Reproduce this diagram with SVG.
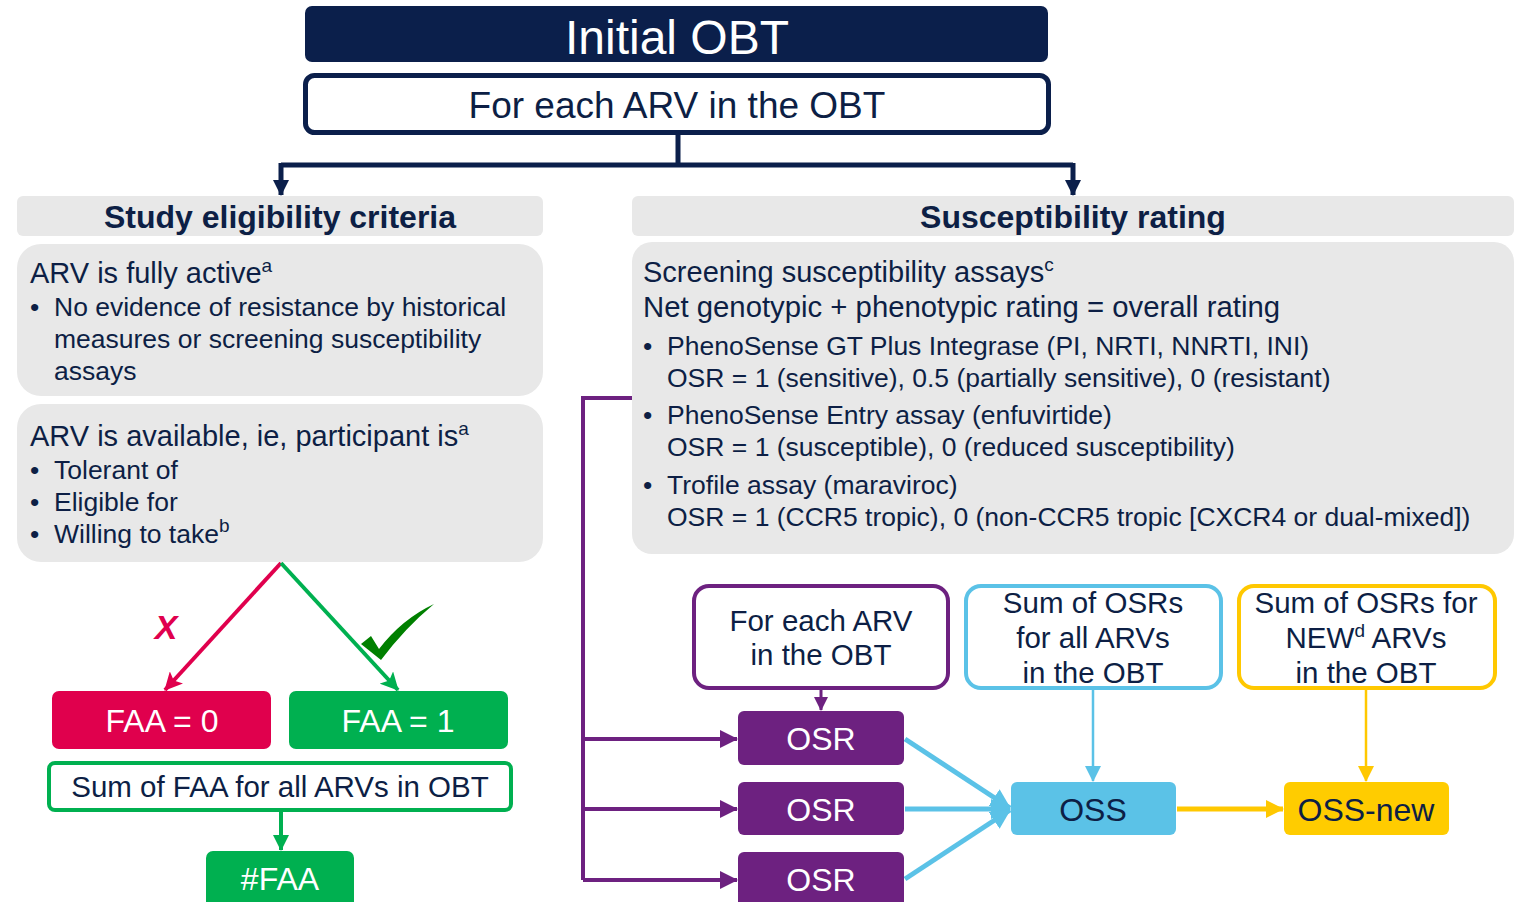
<svg xmlns="http://www.w3.org/2000/svg" width="1522" height="902" viewBox="0 0 1522 902">
<style>
text{font-family:"Liberation Sans",Arial,sans-serif;fill:#0d1f45}
.w{fill:#fff}
.c{text-anchor:middle}
.hdr{font-weight:bold;font-size:32px;text-anchor:middle}
.h2{font-size:29px}
.b{font-size:26.5px}
.bx{font-size:29.5px}
.lg{font-size:32px}
.gray{fill:#e8e8e8}
.nv{stroke:#0b1f4b;stroke-width:5;fill:none}
</style>
<defs>
<marker id="aNavy" markerUnits="userSpaceOnUse" markerWidth="16" markerHeight="16" refX="15" refY="8" orient="auto"><path d="M0,0 L16,8 L0,16 z" fill="#0b1f4b"/></marker>
<marker id="aRed" markerUnits="userSpaceOnUse" markerWidth="18" markerHeight="18" refX="17" refY="9" orient="auto"><path d="M0,0 L18,9 L0,18 L4,9 z" fill="#e0004d"/></marker>
<marker id="aGreen" markerUnits="userSpaceOnUse" markerWidth="18" markerHeight="18" refX="17" refY="9" orient="auto"><path d="M0,0 L18,9 L0,18 L4,9 z" fill="#00b050"/></marker>
<marker id="aGreen2" markerUnits="userSpaceOnUse" markerWidth="16" markerHeight="16" refX="15" refY="8" orient="auto"><path d="M0,0 L16,8 L0,16 z" fill="#00b050"/></marker>
<marker id="aPurple" markerUnits="userSpaceOnUse" markerWidth="18" markerHeight="18" refX="17" refY="9" orient="auto"><path d="M0,0 L18,9 L0,18 z" fill="#6d2180"/></marker>
<marker id="aPurpleS" markerUnits="userSpaceOnUse" markerWidth="14" markerHeight="14" refX="13" refY="7" orient="auto"><path d="M0,0 L14,7 L0,14 z" fill="#6d2180"/></marker>
<marker id="aBlue" markerUnits="userSpaceOnUse" markerWidth="20" markerHeight="20" refX="19" refY="10" orient="auto"><path d="M0,0 L20,10 L0,20 z" fill="#5bc2e7"/></marker>
<marker id="aBlueS" markerUnits="userSpaceOnUse" markerWidth="16" markerHeight="16" refX="15" refY="8" orient="auto"><path d="M0,0 L16,8 L0,16 z" fill="#5bc2e7"/></marker>
<marker id="aYel" markerUnits="userSpaceOnUse" markerWidth="18" markerHeight="18" refX="17" refY="9" orient="auto"><path d="M0,0 L18,9 L0,18 z" fill="#ffc800"/></marker>
<marker id="aYelS" markerUnits="userSpaceOnUse" markerWidth="16" markerHeight="16" refX="15" refY="8" orient="auto"><path d="M0,0 L16,8 L0,16 z" fill="#ffc800"/></marker>
</defs>

<g id="connectors">
<path class="nv" d="M678,133 V165 M281,165 H1073"/>
<path class="nv" d="M281,163 V195" marker-end="url(#aNavy)"/>
<path class="nv" d="M1073,163 V195" marker-end="url(#aNavy)"/>
<line x1="281" y1="563" x2="165" y2="690" stroke="#e0004d" stroke-width="4" marker-end="url(#aRed)"/>
<line x1="281" y1="563" x2="398" y2="690" stroke="#00b050" stroke-width="4" marker-end="url(#aGreen)"/>
<line x1="281" y1="811" x2="281" y2="850" stroke="#00b050" stroke-width="4" marker-end="url(#aGreen2)"/>
<path d="M632,398 H583 V880" stroke="#6d2180" stroke-width="4" fill="none"/>
<line x1="583" y1="739" x2="737" y2="739" stroke="#6d2180" stroke-width="4" marker-end="url(#aPurple)"/>
<line x1="583" y1="809" x2="737" y2="809" stroke="#6d2180" stroke-width="4" marker-end="url(#aPurple)"/>
<line x1="583" y1="880" x2="737" y2="880" stroke="#6d2180" stroke-width="4" marker-end="url(#aPurple)"/>
<line x1="821" y1="689" x2="821" y2="710" stroke="#6d2180" stroke-width="3" marker-end="url(#aPurpleS)"/>
<line x1="905" y1="739" x2="1010" y2="808" stroke="#5bc2e7" stroke-width="5" marker-end="url(#aBlue)"/>
<line x1="905" y1="809" x2="1010" y2="809" stroke="#5bc2e7" stroke-width="5" marker-end="url(#aBlue)"/>
<line x1="905" y1="879" x2="1010" y2="810" stroke="#5bc2e7" stroke-width="5" marker-end="url(#aBlue)"/>
<line x1="1093" y1="689" x2="1093" y2="781" stroke="#5bc2e7" stroke-width="2.5" marker-end="url(#aBlueS)"/>
<line x1="1177" y1="809" x2="1283" y2="809" stroke="#ffc800" stroke-width="5" marker-end="url(#aYel)"/>
<line x1="1366" y1="689" x2="1366" y2="781" stroke="#ffc800" stroke-width="2.5" marker-end="url(#aYelS)"/>
</g>

<g id="initial-obt">
<rect x="305" y="6" width="743" height="56" rx="7" fill="#0b1f4b"/>
<text class="w c" x="677" y="54" font-size="48">Initial OBT</text>
</g>
<g id="for-each-top">
<rect x="305.5" y="75.5" width="743" height="57" rx="9" fill="#fff" stroke="#0b1f4b" stroke-width="5"/>
<text class="c" x="677" y="118" font-size="37">For each ARV in the OBT</text>
</g>

<g id="study-header">
<rect class="gray" x="17" y="196" width="526" height="40" rx="6"/>
<text class="hdr" x="280" y="228">Study eligibility criteria</text>
</g>
<g id="susc-header">
<rect class="gray" x="632" y="196" width="882" height="40" rx="6"/>
<text class="hdr" x="1073" y="228">Susceptibility rating</text>
</g>

<g id="fully-active">
<rect class="gray" x="17" y="244" width="526" height="152" rx="24"/>
<text class="h2" x="30" y="283">ARV is fully active<tspan font-size="19" dy="-11">a</tspan></text>
<text class="b" x="30" y="316">•</text>
<text class="b" x="54" y="316">No evidence of resistance by historical</text>
<text class="b" x="54" y="348">measures or screening susceptibility</text>
<text class="b" x="54" y="380">assays</text>
</g>
<g id="available">
<rect class="gray" x="17" y="404" width="526" height="158" rx="24"/>
<text class="h2" x="30" y="446">ARV is available, ie, participant is<tspan font-size="19" dy="-11">a</tspan></text>
<text class="b" x="30" y="479">•</text><text class="b" x="54" y="479">Tolerant of</text>
<text class="b" x="30" y="511">•</text><text class="b" x="54" y="511">Eligible for</text>
<text class="b" x="30" y="543">•</text><text class="b" x="54" y="543">Willing to take<tspan font-size="19" dy="-11">b</tspan></text>
</g>

<g id="screening">
<rect class="gray" x="632" y="242" width="882" height="312" rx="20"/>
<text class="h2" x="643" y="282">Screening susceptibility assays<tspan font-size="19" dy="-11">c</tspan></text>
<text class="h2" x="643" y="317" textLength="637" lengthAdjust="spacingAndGlyphs">Net genotypic + phenotypic rating = overall rating</text>
<text class="b" x="643" y="355">•</text><text class="b" x="667" y="355">PhenoSense GT Plus Integrase (PI, NRTI, NNRTI, INI)</text>
<text class="b" x="667" y="387">OSR = 1 (sensitive), 0.5 (partially sensitive), 0 (resistant)</text>
<text class="b" x="643" y="424">•</text><text class="b" x="667" y="424">PhenoSense Entry assay (enfuvirtide)</text>
<text class="b" x="667" y="456">OSR = 1 (susceptible), 0 (reduced susceptibility)</text>
<text class="b" x="643" y="494">•</text><text class="b" x="667" y="494">Trofile assay (maraviroc)</text>
<text class="b" x="667" y="526">OSR = 1 (CCR5 tropic), 0 (non-CCR5 tropic [CXCR4 or dual-mixed])</text>
</g>

<g id="marks">
<text x="166" y="639" font-size="34" font-weight="bold" font-style="italic" text-anchor="middle" style="fill:#e0004d">X</text>
<path d="M361,644 L371,636 L379,649 Q402,619 434,604 Q405,628 381,660 Z" fill="#008000"/>
</g>

<g id="faa0">
<rect x="52" y="691" width="219" height="58" rx="7" fill="#e0004d"/>
<text class="w c lg" x="162" y="732">FAA = 0</text>
</g>
<g id="faa1">
<rect x="289" y="691" width="219" height="58" rx="7" fill="#00b050"/>
<text class="w c lg" x="398" y="732">FAA = 1</text>
</g>
<g id="sum-faa">
<rect x="49" y="763" width="462" height="47" rx="6" fill="#fff" stroke="#00b050" stroke-width="4"/>
<text class="c bx" x="280" y="797">Sum of FAA for all ARVs in OBT</text>
</g>
<g id="nfaa">
<rect x="206" y="851" width="148" height="60" rx="7" fill="#00b050"/>
<text class="w c lg" x="280" y="890">#FAA</text>
</g>

<g id="for-each-arv">
<rect x="694" y="586" width="254" height="102" rx="15" fill="#fff" stroke="#6d2180" stroke-width="4"/>
<text class="c bx" x="821" y="631">For each ARV</text>
<text class="c bx" x="821" y="665">in the OBT</text>
</g>
<g id="osr1">
<rect x="738" y="711" width="166" height="54" rx="6" fill="#6d2180"/>
<text class="w c lg" x="821" y="750">OSR</text>
</g>
<g id="osr2">
<rect x="738" y="782" width="166" height="53" rx="6" fill="#6d2180"/>
<text class="w c lg" x="821" y="821">OSR</text>
</g>
<g id="osr3">
<rect x="738" y="852" width="166" height="60" rx="6" fill="#6d2180"/>
<text class="w c lg" x="821" y="891">OSR</text>
</g>

<g id="sum-osr">
<rect x="966" y="586" width="255" height="102" rx="15" fill="#fff" stroke="#5bc2e7" stroke-width="4"/>
<text class="c bx" x="1093" y="613">Sum of OSRs</text>
<text class="c bx" x="1093" y="648">for all ARVs</text>
<text class="c bx" x="1093" y="683">in the OBT</text>
</g>
<g id="oss">
<rect x="1011" y="782" width="165" height="53" rx="6" fill="#5bc2e7"/>
<text class="c lg" x="1093" y="821">OSS</text>
</g>
<g id="sum-new">
<rect x="1239" y="586" width="256" height="102" rx="15" fill="#fff" stroke="#ffc800" stroke-width="4"/>
<text class="c bx" x="1366" y="613">Sum of OSRs for</text>
<text class="c bx" x="1366" y="648">NEW<tspan font-size="19" dy="-11">d</tspan><tspan dy="11"> ARVs</tspan></text>
<text class="c bx" x="1366" y="683">in the OBT</text>
</g>
<g id="oss-new">
<rect x="1284" y="782" width="165" height="53" rx="6" fill="#ffcc00"/>
<text class="c lg" x="1366" y="821">OSS-new</text>
</g>
</svg>
